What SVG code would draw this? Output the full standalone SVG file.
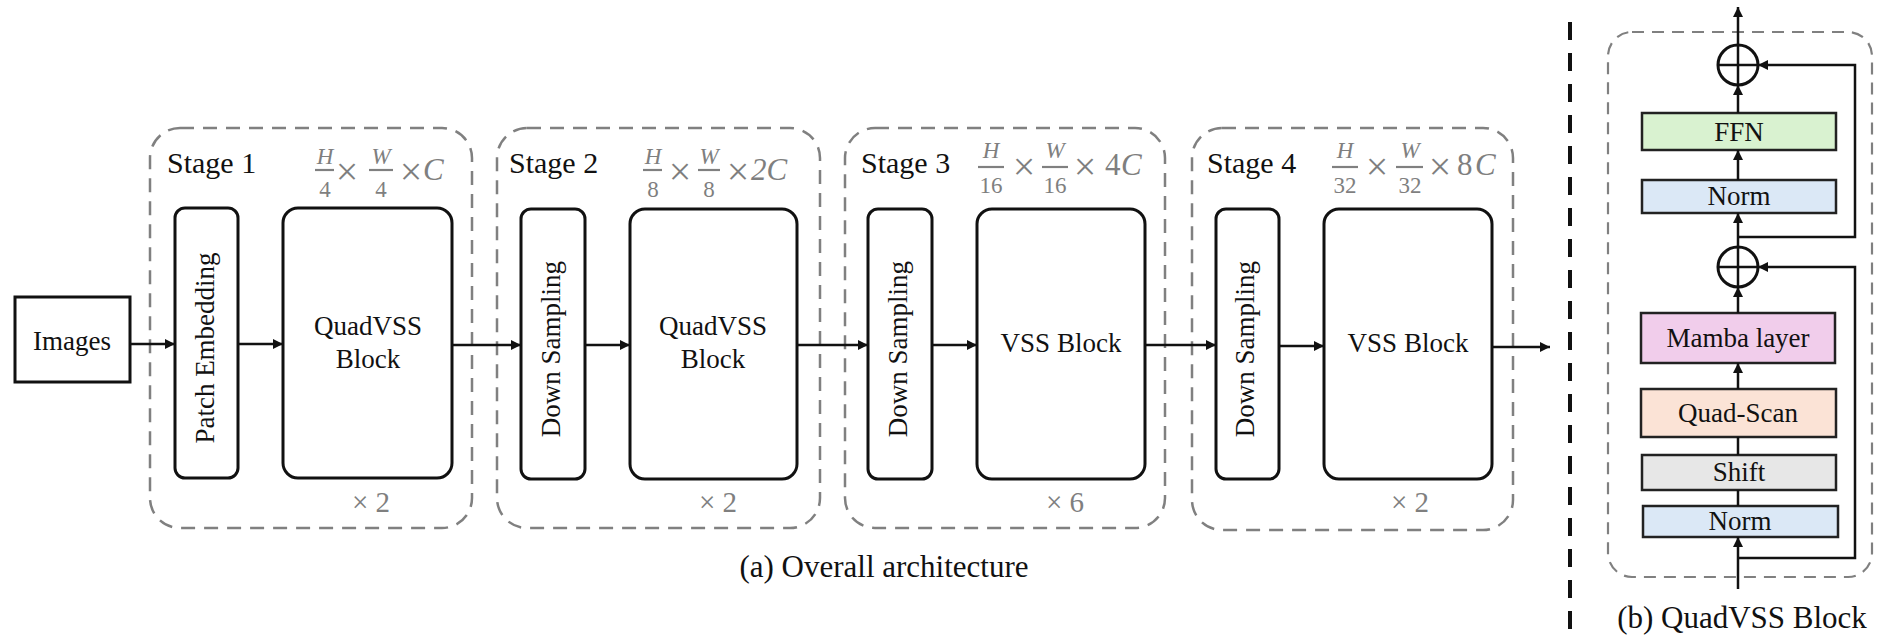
<svg xmlns="http://www.w3.org/2000/svg" width="1877" height="641" viewBox="0 0 1877 641">
<style>
.t{font-family:"Liberation Serif","Times New Roman",serif;fill:#111}
.n{font-size:27px;text-anchor:middle}
.st{font-size:30px}
.cap{font-size:31px;text-anchor:middle}
.g{font-family:"Liberation Serif","Times New Roman",serif;fill:#7f7f7f}
.f{font-size:23px;text-anchor:middle}
.x{font-size:40px;text-anchor:middle}
.c{font-size:31px}
.r{font-size:29px}
.gi{font-style:italic}
.blk{fill:#fff;stroke:#111;stroke-width:3}
.lay{stroke:#222;stroke-width:2.5}
.dash{fill:none;stroke:#808080;stroke-width:2.5;stroke-dasharray:14 9}
.ln{fill:none;stroke:#111;stroke-width:2.5}
.bar{stroke:#808080;stroke-width:2.2}
</style>
<defs>
<marker id="ah" viewBox="0 0 10 10" refX="10" refY="5" markerWidth="4" markerHeight="4" orient="auto" markerUnits="strokeWidth">
<path d="M0,0 L10,5 L0,10 z" fill="#111"/>
</marker>
</defs>
<rect width="1877" height="641" fill="#fff"/>

<g id="stage1">
<rect class="dash" x="150" y="128" width="322" height="400" rx="30"/>
<text class="t st" x="167" y="173">Stage 1</text>
<text class="g gi f" x="325" y="164">H</text>
<line class="bar" x1="315" y1="170" x2="334" y2="170"/>
<text class="g f" x="325" y="197">4</text>
<text class="g x" x="347" y="185">×</text>
<text class="g gi f" x="381" y="164">W</text>
<line class="bar" x1="369" y1="170" x2="393" y2="170"/>
<text class="g f" x="381" y="197">4</text>
<text class="g x" x="411" y="185">×</text>
<text class="g gi c" x="423" y="180">C</text>
<text class="g r" x="352" y="512">× 2</text>
</g>
<g id="images"><rect x="15" y="297" width="115" height="85" fill="#fff" stroke="#111" stroke-width="3"/><text class="t n" x="72" y="350">Images</text></g>
<g id="patch-embedding"><rect class="blk" x="175" y="208" width="63" height="270" rx="10"/><text class="t n" transform="rotate(-90 207 348)" x="207" y="355">Patch Embedding</text></g>
<g id="quadvss1"><rect class="blk" x="283" y="208" width="169" height="270" rx="15"/><text class="t n" x="368" y="335">QuadVSS</text><text class="t n" x="368" y="368">Block</text></g>

<g id="stage2">
<rect class="dash" x="497" y="128" width="323" height="400" rx="30"/>
<text class="t st" x="509" y="173">Stage 2</text>
<text class="g gi f" x="653" y="164">H</text>
<line class="bar" x1="643" y1="170" x2="662" y2="170"/>
<text class="g f" x="653" y="197">8</text>
<text class="g x" x="680" y="185">×</text>
<text class="g gi f" x="709" y="164">W</text>
<line class="bar" x1="698" y1="170" x2="720" y2="170"/>
<text class="g f" x="709" y="197">8</text>
<text class="g x" x="738" y="185">×</text>
<text class="g gi c" x="751" y="180">2C</text>
<text class="g r" x="699" y="512">× 2</text>
</g>
<g id="downsampling2"><rect class="blk" x="521" y="209" width="64" height="270" rx="10"/><text class="t n" transform="rotate(-90 553 349)" x="553" y="356">Down Sampling</text></g>
<g id="quadvss2"><rect class="blk" x="630" y="209" width="167" height="270" rx="15"/><text class="t n" x="713" y="335">QuadVSS</text><text class="t n" x="713" y="368">Block</text></g>

<g id="stage3">
<rect class="dash" x="845" y="128" width="320" height="400" rx="30"/>
<text class="t st" x="861" y="173">Stage 3</text>
<text class="g gi f" x="991" y="158">H</text>
<line class="bar" x1="978" y1="167" x2="1004" y2="167"/>
<text class="g f" x="991" y="193">16</text>
<text class="g x" x="1024" y="180">×</text>
<text class="g gi f" x="1055" y="158">W</text>
<line class="bar" x1="1042" y1="167" x2="1068" y2="167"/>
<text class="g f" x="1055" y="193">16</text>
<text class="g x" x="1085" y="180">×</text>
<text class="g c" x="1105" y="175">4</text>
<text class="g gi c" x="1121" y="175">C</text>
<text class="g r" x="1046" y="512">× 6</text>
</g>
<g id="downsampling3"><rect class="blk" x="868" y="209" width="64" height="270" rx="10"/><text class="t n" transform="rotate(-90 900 349)" x="900" y="356">Down Sampling</text></g>
<g id="vss3"><rect class="blk" x="977" y="209" width="168" height="270" rx="15"/><text class="t n" x="1061" y="352">VSS Block</text></g>

<g id="stage4">
<rect class="dash" x="1192" y="128" width="321" height="402" rx="30"/>
<text class="t st" x="1207" y="173">Stage 4</text>
<text class="g gi f" x="1345" y="158">H</text>
<line class="bar" x1="1332" y1="167" x2="1358" y2="167"/>
<text class="g f" x="1345" y="193">32</text>
<text class="g x" x="1377" y="180">×</text>
<text class="g gi f" x="1410" y="158">W</text>
<line class="bar" x1="1396" y1="167" x2="1423" y2="167"/>
<text class="g f" x="1410" y="193">32</text>
<text class="g x" x="1440" y="180">×</text>
<text class="g c" x="1457" y="175">8</text>
<text class="g gi c" x="1475" y="175">C</text>
<text class="g r" x="1391" y="512">× 2</text>
</g>
<g id="downsampling4"><rect class="blk" x="1216" y="209" width="63" height="270" rx="10"/><text class="t n" transform="rotate(-90 1247 349)" x="1247" y="356">Down Sampling</text></g>
<g id="vss4"><rect class="blk" x="1324" y="209" width="168" height="270" rx="15"/><text class="t n" x="1408" y="352">VSS Block</text></g>

<g id="caption-a"><text class="t cap" x="884" y="577">(a) Overall architecture</text></g>

<g id="separator"><line x1="1570" y1="22" x2="1570" y2="641" stroke="#111" stroke-width="4" stroke-dasharray="18 13"/></g>

<g id="quadvss-detail">
<rect x="1608" y="32" width="264" height="545" rx="24" fill="none" stroke="#808080" stroke-width="2.2" stroke-dasharray="12 8"/>
</g>
<g id="ffn"><rect class="lay" x="1642" y="113" width="194" height="37" fill="#d9f2d0"/><text class="t n" x="1739" y="141">FFN</text></g>
<g id="norm2"><rect class="lay" x="1642" y="180" width="194" height="33" fill="#dbe8f6"/><text class="t n" x="1739" y="205">Norm</text></g>
<g id="mamba"><rect class="lay" x="1641" y="313" width="194" height="50" fill="#f1cdeb"/><text class="t n" x="1738" y="347">Mamba layer</text></g>
<g id="quadscan"><rect class="lay" x="1641" y="389" width="195" height="48" fill="#fbe3d6"/><text class="t n" x="1738" y="422">Quad-Scan</text></g>
<g id="shift"><rect class="lay" x="1642" y="455" width="194" height="35" fill="#e7e7e7"/><text class="t n" x="1739" y="481">Shift</text></g>
<g id="norm1"><rect class="lay" x="1643" y="506" width="195" height="31" fill="#dbe8f6"/><text class="t n" x="1740" y="530">Norm</text></g>
<g id="add2"><circle cx="1738" cy="65" r="20" fill="none" stroke="#111" stroke-width="3"/><line x1="1738" y1="45" x2="1738" y2="85" stroke="#111" stroke-width="2.5"/><line x1="1718" y1="65" x2="1758" y2="65" stroke="#111" stroke-width="2.5"/></g>
<g id="add1"><circle cx="1738" cy="267" r="20" fill="none" stroke="#111" stroke-width="3"/><line x1="1738" y1="247" x2="1738" y2="287" stroke="#111" stroke-width="2.5"/><line x1="1718" y1="267" x2="1758" y2="267" stroke="#111" stroke-width="2.5"/></g>
<g id="caption-b"><text class="t cap" x="1742" y="628">(b) QuadVSS Block</text></g>

<g id="connectors">
<line class="ln" x1="130" y1="344" x2="175" y2="344" marker-end="url(#ah)"/>
<line class="ln" x1="238" y1="344" x2="283" y2="344" marker-end="url(#ah)"/>
<line class="ln" x1="452" y1="345" x2="521" y2="345" marker-end="url(#ah)"/>
<line class="ln" x1="585" y1="345" x2="630" y2="345" marker-end="url(#ah)"/>
<line class="ln" x1="797" y1="345" x2="868" y2="345" marker-end="url(#ah)"/>
<line class="ln" x1="932" y1="345" x2="977" y2="345" marker-end="url(#ah)"/>
<line class="ln" x1="1145" y1="345" x2="1216" y2="345" marker-end="url(#ah)"/>
<line class="ln" x1="1279" y1="346" x2="1324" y2="346" marker-end="url(#ah)"/>
<line class="ln" x1="1492" y1="347" x2="1550" y2="347" marker-end="url(#ah)"/>

<line class="ln" x1="1738" y1="589" x2="1738" y2="537" marker-end="url(#ah)"/>
<line class="ln" x1="1738" y1="506" x2="1738" y2="490"/>
<line class="ln" x1="1738" y1="455" x2="1738" y2="437"/>
<line class="ln" x1="1738" y1="389" x2="1738" y2="363" marker-end="url(#ah)"/>
<line class="ln" x1="1738" y1="313" x2="1738" y2="287" marker-end="url(#ah)"/>
<line class="ln" x1="1738" y1="247" x2="1738" y2="213" marker-end="url(#ah)"/>
<line class="ln" x1="1738" y1="180" x2="1738" y2="150" marker-end="url(#ah)"/>
<line class="ln" x1="1738" y1="113" x2="1738" y2="85" marker-end="url(#ah)"/>
<line class="ln" x1="1738" y1="45" x2="1738" y2="7" marker-end="url(#ah)"/>
<polyline class="ln" points="1738,558 1855,558 1855,267 1758,267" marker-end="url(#ah)"/>
<polyline class="ln" points="1738,237 1855,237 1855,65 1758,65" marker-end="url(#ah)"/>
</g>
</svg>
